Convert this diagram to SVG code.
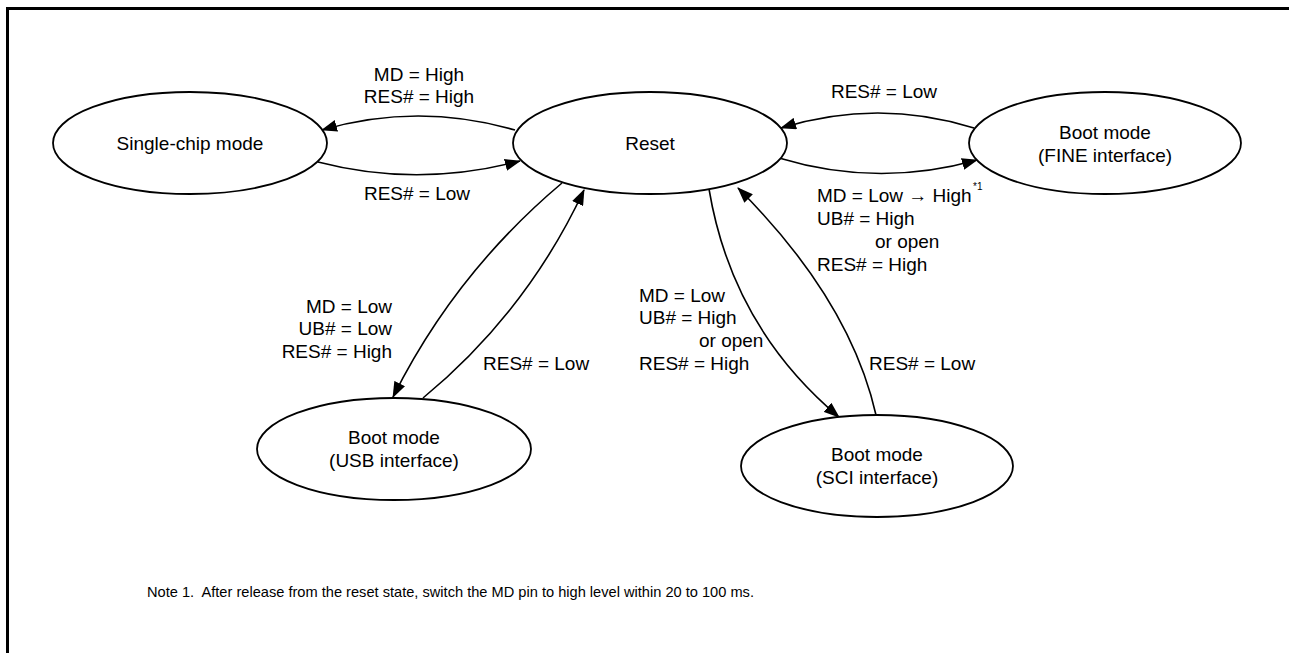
<svg xmlns="http://www.w3.org/2000/svg" width="1289" height="653" viewBox="0 0 1289 653">
<style>
.node{fill:#fff;stroke:#000;stroke-width:1.8}
.t{font-family:"Liberation Sans",Arial,sans-serif;font-size:19px;fill:#000}
.m{text-anchor:middle}
.e{text-anchor:end}
.edge{fill:none;stroke:#000;stroke-width:1.6;marker-end:url(#ah)}
.note{font-family:"Liberation Sans",Arial,sans-serif;font-size:15px;fill:#000}
.sup{font-family:"Liberation Sans",Arial,sans-serif;font-size:10px;fill:#000}
</style>
<defs>
<marker id="ah" markerUnits="userSpaceOnUse" markerWidth="16" markerHeight="12" viewBox="0 0 16 12" refX="15" refY="6" orient="auto">
<path d="M0,0 L16,6 L0,12 Z" fill="#000"/>
</marker>
</defs>
<rect width="1289" height="653" fill="#fff"/>
<g id="frame">
<path d="M7.5,653 V8.5 H1289" fill="none" stroke="#000" stroke-width="3"/>
</g>
<g id="connectors">
<path class="edge" d="M515,130 Q418,102 322,130"/>
<path class="edge" d="M318,162 Q418,188 520,161"/>
<path class="edge" d="M974,128 Q878,98 781,128"/>
<path class="edge" d="M779,158 Q878,188 977,160"/>
<path class="edge" d="M562,183 Q455,273 393,397"/>
<path class="edge" d="M423,398 Q527,312 584,190"/>
<path class="edge" d="M709,189 Q732,327 839,417"/>
<path class="edge" d="M876,415 Q850,300 738,188"/>
</g>
<g id="node-single">
<ellipse class="node" cx="190" cy="143" rx="137" ry="51"/>
<text class="t m" x="190" y="150">Single-chip mode</text>
</g>
<g id="node-reset">
<ellipse class="node" cx="650" cy="143" rx="137" ry="51"/>
<text class="t m" x="650" y="150">Reset</text>
</g>
<g id="node-fine">
<ellipse class="node" cx="1105" cy="143" rx="136" ry="51"/>
<text class="t m" x="1105" y="139">Boot mode</text>
<text class="t m" x="1105" y="162">(FINE interface)</text>
</g>
<g id="node-usb">
<ellipse class="node" cx="394" cy="449" rx="137" ry="51"/>
<text class="t m" x="394" y="444">Boot mode</text>
<text class="t m" x="394" y="467">(USB interface)</text>
</g>
<g id="node-sci">
<ellipse class="node" cx="877" cy="466" rx="136" ry="51"/>
<text class="t m" x="877" y="461">Boot mode</text>
<text class="t m" x="877" y="484">(SCI interface)</text>
</g>
<g id="labels">
<text class="t m" x="419" y="81">MD = High</text>
<text class="t m" x="419" y="103">RES# = High</text>
<text class="t m" x="417" y="200">RES# = Low</text>
<text class="t m" x="884" y="98">RES# = Low</text>
<text class="t" x="817" y="202">MD = Low → High</text>
<text class="sup" x="973" y="190">*1</text>
<text class="t" x="817" y="225">UB# = High</text>
<text class="t" x="875" y="248">or open</text>
<text class="t" x="817" y="271">RES# = High</text>
<text class="t e" x="392" y="313">MD = Low</text>
<text class="t e" x="392" y="335">UB# = Low</text>
<text class="t e" x="392" y="358">RES# = High</text>
<text class="t" x="483" y="370">RES# = Low</text>
<text class="t" x="639" y="302">MD = Low</text>
<text class="t" x="639" y="324">UB# = High</text>
<text class="t" x="699" y="347">or open</text>
<text class="t" x="639" y="370">RES# = High</text>
<text class="t" x="869" y="370">RES# = Low</text>
<text class="note" x="147" y="597" xml:space="preserve" textLength="607" lengthAdjust="spacingAndGlyphs">Note 1.  After release from the reset state, switch the MD pin to high level within 20 to 100 ms.</text>
</g>
</svg>
